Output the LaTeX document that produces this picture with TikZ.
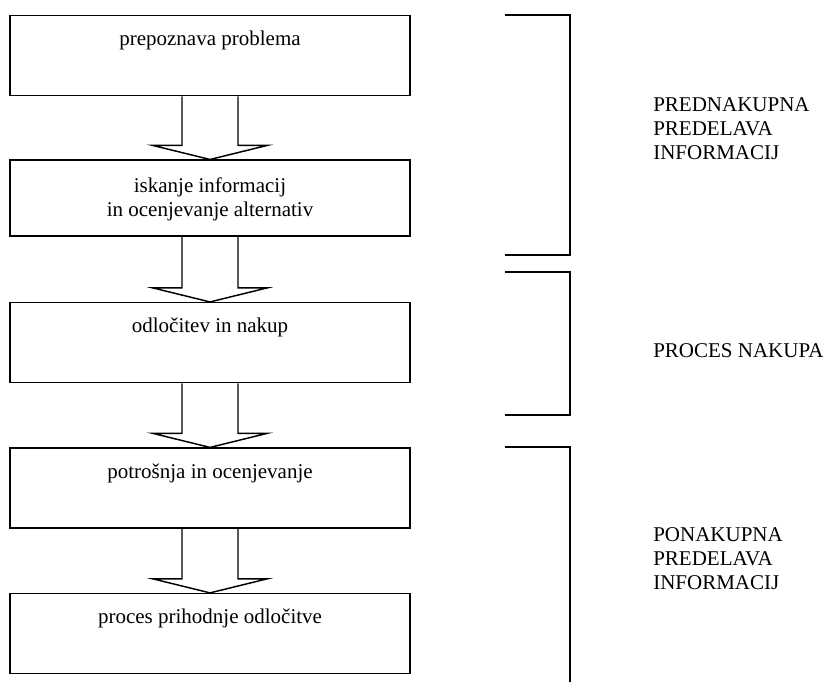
\documentclass[tikz,border=0pt]{standalone}
\usepackage{fontspec}
\setmainfont{Liberation Serif}
\usetikzlibrary{positioning,calc}

\begin{document}
\begin{tikzpicture}[x=0.75pt,y=-0.75pt,
        box/.style={rectangle, draw, line width=1.1pt, minimum width=300pt, inner xsep=0pt, inner ysep=0pt, text height=22.5pt, text depth=37.5pt, align=center, font=\fontsize{15.75}{17.5}\selectfont},
        blockarrow/.style={draw, line width=1.1pt, line join=miter},
        bracket/.style={draw, line width=1pt},
        phase/.style={anchor=north west, inner sep=0pt, align=left, font=\fontsize{15.75}{18}\selectfont}]
        \useasboundingbox (0,0) rectangle (830,682);
        \node[box, anchor=north] (b1) at (210,15) {prepoznava problema};
        \node[box, text height=42pt, text depth=15pt] (b2) [below=47.25pt of b1] {iskanje informacij\\ in ocenjevanje alternativ};
        \node[box] (b3) [below=48.75pt of b2] {odločitev in nakup};
        \node[box] (b4) [below=48pt of b3] {potrošnja in ocenjevanje};
        \node[box] (b5) [below=48pt of b4] {proces prihodnje odločitve};
        \foreach \a/\b in {b1/b2, b2/b3, b3/b4, b4/b5}
            \draw[blockarrow] ($(\a.south)+(-28,0)$) -- ($(\b.north)+(-28,-14)$) -- ($(\b.north)+(-57,-14)$) -- (\b.north)
                -- ($(\b.north)+(57,-14)$) -- ($(\b.north)+(28,-14)$) -- ($(\a.south)+(28,0)$);
        \draw[bracket] (505,15) -- (570,15) -- (570,255) -- (505,255);
        \draw[bracket] (505,272) -- (570,272) -- (570,415) -- (505,415);
        \draw[bracket] (505,447) -- (570,447) -- (570,682);
        \node[phase] (pre) at (653,97) {PREDNAKUPNA\\ PREDELAVA\\ INFORMACIJ};
        \node[phase] (nak) at (653,343) {PROCES NAKUPA};
        \node[phase] (po) at (653,527) {PONAKUPNA\\ PREDELAVA\\ INFORMACIJ};
    \end{tikzpicture}
\end{document}
